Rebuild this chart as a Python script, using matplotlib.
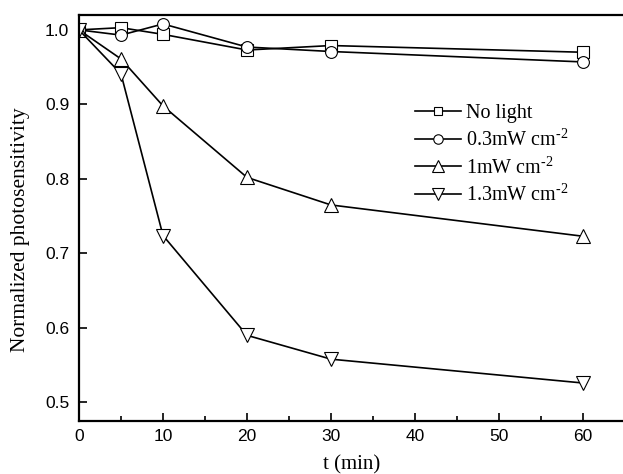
import numpy as np
import matplotlib.pyplot as plt
from matplotlib.ticker import MultipleLocator

# time points (min)
t = [0, 5, 10, 20, 30, 60]

# normalized photosensitivity for each illumination condition
no_light = [1.000, 1.003, 0.994, 0.973, 0.979, 0.970]
p03 = [1.000, 0.993, 1.008, 0.977, 0.971, 0.957]
p1 = [1.000, 0.961, 0.898, 0.802, 0.765, 0.723]
p13 = [1.000, 0.941, 0.724, 0.590, 0.558, 0.526]

labels = ['No light',
          '0.3mW cm$^{\\mathregular{\u20102}}$',
          '1mW cm$^{\\mathregular{\u20102}}$',
          '1.3mW cm$^{\\mathregular{\u20102}}$']

plt.rcParams['mathtext.fontset'] = 'custom'
plt.rcParams['mathtext.rm'] = 'Liberation Serif'

fig = plt.figure(figsize=(6.23, 4.74), dpi=100)
ax = fig.add_axes([79 / 623, 1 - 421 / 474, (625 - 79) / 623, (421 - 15) / 474])

series = [(no_light, 's', 8), (p03, 'o', 8.5), (p1, '^', 10), (p13, 'v', 10)]
for (vals, mk, ms), lab in zip(series, labels):
    ax.plot(t, vals, color='black', lw=1.2, marker=mk, ms=ms,
            mfc='white', mec='black', mew=0.8, label=lab)

ax.set_xlim(0, 65)
ax.set_ylim(0.475, 1.02)
ax.xaxis.set_major_locator(MultipleLocator(10))
ax.xaxis.set_minor_locator(MultipleLocator(5))
ax.yaxis.set_major_locator(MultipleLocator(0.1))
ax.tick_params(axis='both', which='both', direction='in', top=False, right=False)
ax.tick_params(which='major', length=6, width=1.2)
ax.tick_params(axis='y', which='major', pad=7)
ax.tick_params(axis='x', which='major', pad=6)
ax.tick_params(axis='x', which='minor', length=3.5, width=1.2)
ax.tick_params(axis='y', which='minor', left=False)
for sp in ax.spines.values():
    sp.set_linewidth(1.6)

for lbl in ax.get_xticklabels() + ax.get_yticklabels():
    lbl.set_fontfamily('Liberation Sans')
    lbl.set_fontsize(12.5)

ax.set_xlabel('t (min)', family='Liberation Serif', fontsize=15, labelpad=8)
ax.set_ylabel('Normalized photosensitivity', family='Liberation Serif', fontsize=15.5)
ax.yaxis.set_label_coords(-0.09, 0.47)

leg = ax.legend(loc='upper left', bbox_to_anchor=(0.6, 0.8), frameon=False,
                prop={'family': 'Liberation Serif', 'size': 14.5},
                handlelength=2.3, handletextpad=0.25, labelspacing=0.28,
                borderaxespad=0, markerscale=0.8)

fig.savefig('out.png', dpi=100)
